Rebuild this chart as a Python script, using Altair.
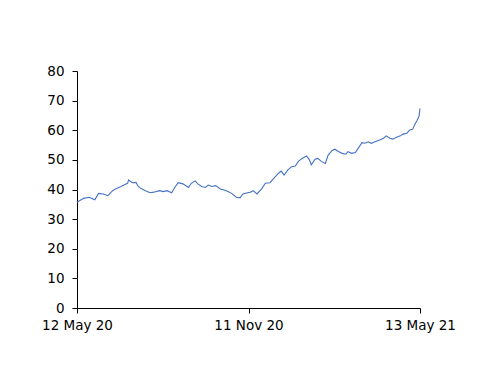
import altair as alt
import pandas as pd

dates = [
    "2020-05-12", "2020-05-19", "2020-05-25", "2020-05-31", "2020-06-04", "2020-06-09",
    "2020-06-14", "2020-06-19", "2020-06-22", "2020-06-28", "2020-07-01", "2020-07-05",
    "2020-07-06", "2020-07-10", "2020-07-14", "2020-07-16", "2020-07-19", "2020-07-24",
    "2020-07-29", "2020-08-02", "2020-08-08", "2020-08-12", "2020-08-16", "2020-08-21",
    "2020-08-25", "2020-08-28", "2020-09-02", "2020-09-08", "2020-09-11", "2020-09-15",
    "2020-09-18", "2020-09-22", "2020-09-26", "2020-09-29", "2020-10-03", "2020-10-07",
    "2020-10-12", "2020-10-16", "2020-10-20", "2020-10-24", "2020-10-29", "2020-11-02",
    "2020-11-05", "2020-11-10", "2020-11-13", "2020-11-16", "2020-11-20", "2020-11-25",
    "2020-11-29", "2020-12-04", "2020-12-07", "2020-12-13", "2020-12-16", "2020-12-19",
    "2020-12-23", "2020-12-27", "2020-12-31", "2021-01-03", "2021-01-07", "2021-01-12",
    "2021-01-15", "2021-01-17", "2021-01-21", "2021-01-24", "2021-01-28", "2021-02-01",
    "2021-02-04", "2021-02-08", "2021-02-11", "2021-02-15", "2021-02-19", "2021-02-23",
    "2021-02-25", "2021-03-01", "2021-03-05", "2021-03-08", "2021-03-12", "2021-03-15",
    "2021-03-19", "2021-03-22", "2021-03-26", "2021-03-31", "2021-04-04", "2021-04-07",
    "2021-04-11", "2021-04-14", "2021-04-18", "2021-04-22", "2021-04-25", "2021-04-29",
    "2021-05-02", "2021-05-05", "2021-05-08", "2021-05-10", "2021-05-12", "2021-05-13",
]
values = [
    35.7, 37.0, 37.4, 36.5, 38.7, 38.5,
    37.9, 39.6, 40.2, 41.0, 41.5, 42.1,
    43.2, 42.3, 42.4, 41.2, 40.4, 39.6,
    38.9, 39.1, 39.6, 39.3, 39.6, 38.9,
    41.0, 42.3, 41.9, 40.7, 42.1, 42.9,
    41.9, 41.0, 40.7, 41.5, 41.0, 41.3,
    40.2, 39.8, 39.3, 38.7, 37.4, 37.2,
    38.5, 38.9, 39.1, 39.6, 38.5, 40.2,
    42.1, 42.3, 43.4, 45.5, 46.2, 44.9,
    46.6, 47.7, 47.9, 49.4, 50.5, 51.3,
    50.0, 48.3, 50.2, 50.5, 49.4, 48.8,
    51.6, 53.1, 53.6, 52.8, 52.2, 51.9,
    52.8, 52.2, 52.5, 53.9, 55.8, 55.6,
    56.1, 55.6, 56.1, 56.7, 57.3, 58.1,
    57.3, 57.0, 57.6, 58.1, 58.7, 59.0,
    60.1, 60.3, 62.3, 63.4, 64.8, 67.4,
]
y_ticks = [0, 10, 20, 30, 40, 50, 60, 70, 80]
x_ticks = [(2020, 5, 12), (2020, 11, 11), (2021, 5, 13)]

df = pd.DataFrame({"date": dates, "value": values})

def dt(t):
    return alt.DateTime(year=t[0], month=t[1], date=t[2], utc=True)

axis_common = dict(
    grid=False,
    domainColor="#000000",
    tickColor="#000000",
    labelColor="#000000",
    labelFont="DejaVu Sans",
    labelFontSize=13.5,
    tickSize=5,
    domainWidth=1,
    tickWidth=1,
    title=None,
)

chart = (
    alt.Chart(df)
    .mark_line(color="#4472C4", strokeWidth=1.1)
    .encode(
        x=alt.X(
            "date:T",
            scale=alt.Scale(type="utc", domain=[dt(x_ticks[0]), dt(x_ticks[-1])]),
            axis=alt.Axis(
                values=[dt(t) for t in x_ticks],
                format="%d %b %y",
                labelPadding=5,
                labelFlush=False,
                **axis_common,
            ),
        ),
        y=alt.Y(
            "value:Q",
            scale=alt.Scale(domain=[0, 80], nice=False),
            axis=alt.Axis(values=y_ticks, labelPadding=8, **axis_common),
        ),
    )
    .properties(
        width=343,
        height=237,
        autosize="none",
        padding={"left": 69, "top": 63, "right": 60, "bottom": 60},
    )
    .configure_view(stroke=None)
)

chart.save("out.html", embed_options={"renderer": "svg", "actions": False})
